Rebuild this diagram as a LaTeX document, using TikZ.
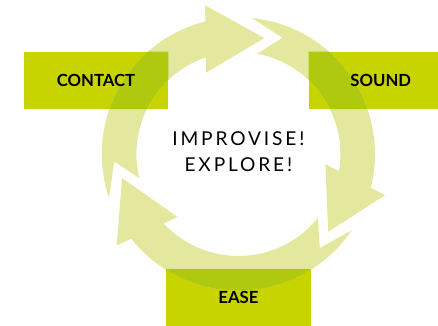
\documentclass[tikz,border=0pt]{standalone}
\usepackage{fontspec}
\setmainfont{Lato}
\usepackage{tikz}
\usetikzlibrary{calc,backgrounds}

\definecolor{lime}{HTML}{C8D400}
\definecolor{pale}{HTML}{E3E89E}
\definecolor{overlap}{HTML}{AFC90F}

% one curved arrow: #1 = tip of the previous arrow, #2 = own tip (angles)
\newcommand{\cyclearrow}[2]{%
    (#1+7:3.415) arc[start angle=#1+7, end angle=#2+25, radius=3.415]
    -- (#2+25:2.55) arc[start angle=#2+25, end angle=#1+2, radius=2.55]
    -- (#1-8.2:3.11) -- cycle % notched tail
    ($(#2+28.5:2.99)!0.84cm!90:(#2:2.97)$) -- (#2:2.97)
    -- ($(#2+28.5:2.99)!0.84cm!-90:(#2:2.97)$) -- cycle % head
}

\begin{document}
\begin{tikzpicture}[
    box/.style={minimum width=3.6cm, minimum height=1.425cm, inner sep=0pt,
        font=\fontsize{11.9}{14}\selectfont\bfseries},
    motto/.style={align=center, font=\fontsize{13.6}{18.5}\selectfont\addfontfeature{LetterSpace=15}}
]

\useasboundingbox (-5.96,-4.3) rectangle (4.99,3.85);

    \node[box] (contact) at (-3.56,1.84) {CONTACT};
    \node[box] (sound)   at ( 3.56,1.84) {SOUND};
    \node[box] (ease)    at ( 0,-3.59)   {EASE};

    \node[motto] (centre) at (0,0.05) {IMPROVISE!\\EXPLORE!};

\begin{scope}[on background layer]
    \foreach \n in {contact,sound,ease}
        \fill[lime] (\n.south west) rectangle (\n.north east);

    \foreach \p/\t in {191.7/77.4, 77.4/-40.9, -40.9/-168.3}
        \fill[pale] \cyclearrow{\p}{\t};

    \begin{scope}
        \clip (contact.south west) rectangle (contact.north east)
              (sound.south west) rectangle (sound.north east)
              (ease.south west) rectangle (ease.north east); % only inside the boxes
        \foreach \p/\t in {191.7/77.4, 77.4/-40.9, -40.9/-168.3}
            \fill[overlap] \cyclearrow{\p}{\t};
    \end{scope}
\end{scope}

\end{tikzpicture}
\end{document}
